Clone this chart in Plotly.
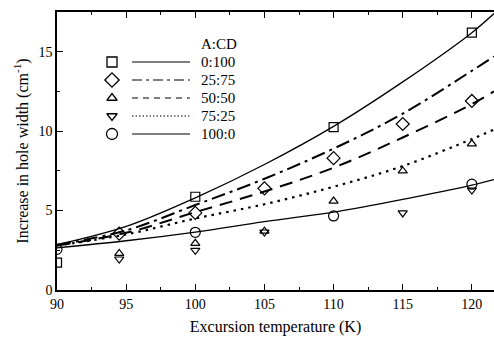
import plotly.graph_objects as go

# ---- data ----
fit_temps = [90, 95, 100, 105, 110, 115, 120, 121.6]
fit_0_100 = [2.85, 4.0, 5.8, 7.9, 10.3, 13.1, 16.2, 17.4]
fit_25_75 = [2.85, 3.75, 5.35, 7.0, 8.9, 11.1, 13.8, 14.7]
fit_50_50 = [2.8, 3.6, 4.9, 6.2, 7.7, 9.6, 11.7, 12.5]
fit_75_25 = [2.8, 3.5, 4.5, 5.4, 6.5, 7.8, 9.5, 10.1]
fit_100_0 = [2.65, 3.1, 3.65, 4.3, 4.9, 5.7, 6.6, 6.95]

sq_x = [90, 100, 110, 120]
sq_y = [1.72, 5.87, 10.25, 16.2]
di_x = [94.5, 100, 105, 110, 115, 120]
di_y = [3.55, 4.85, 6.4, 8.3, 10.45, 11.9]
tu_x = [94.5, 100, 105, 110, 115, 120]
tu_y = [2.3, 2.94, 3.7, 5.6, 7.5, 9.2]
td_x = [94.5, 100, 105, 115, 120]
td_y = [1.95, 2.5, 3.65, 4.85, 6.29]
ci_x = [90, 100, 110, 120]
ci_y = [2.56, 3.63, 4.66, 6.66]

legend_labels = ["0:100", "25:75", "50:50", "75:25", "100:0"]
legend_header = "A:CD"
x_ticks = [90, 95, 100, 105, 110, 115, 120]
y_ticks = [0, 5, 10, 15]

# ---- layout geometry ----
W, H = 494, 340
L, R, T, B = 57, 0, 12, 50
X_RANGE = [90, 121.6]
Y_RANGE = [0, 17.5]

def px2paper(px, py):
    return (px - L) / (W - L - R), (H - B - py) / (H - T - B)

FONT = "Liberation Serif"
black = "black"

fig = go.Figure()

line_styles = [
    dict(dash="solid", width=1.3),
    dict(dash="14px,5px,3px,5px", width=2.0),
    dict(dash="13px,8px", width=2.0),
    dict(dash="2.5px,5px", width=2.2),
    dict(dash="solid", width=1.3),
]
fits = [fit_0_100, fit_25_75, fit_50_50, fit_75_25, fit_100_0]
for ys, st in zip(fits, line_styles):
    fig.add_trace(go.Scatter(x=fit_temps, y=ys, mode="lines", line_shape="spline",
                             line=dict(color=black, **st), showlegend=False,
                             hoverinfo="skip"))

symbols = ["square-open", "diamond-open", "triangle-up-open", "triangle-down-open", "circle-open"]
sizes = [9, 10, 8, 8, 10]
series = [(sq_x, sq_y), (di_x, di_y), (tu_x, tu_y), (td_x, td_y), (ci_x, ci_y)]
for (xs, ys), sym, sz in zip(series, symbols, sizes):
    fig.add_trace(go.Scatter(x=xs, y=ys, mode="markers",
                             marker=dict(symbol=sym, size=sz, color=black,
                                         line=dict(color=black, width=1.2)),
                             showlegend=False))

# ---- hand-drawn legend ----
row_py = [62, 80, 98, 116, 134]
leg_dash = ["solid", "10px,4px,3px,4px", "6px,5px", "1.5px,2px", "solid"]
lx, ly = [], []
for i, py in enumerate(row_py):
    sx, sy = px2paper(112, py)
    lx.append(sx); ly.append(sy)
    x0, y0 = px2paper(132, py)
    x1, _ = px2paper(190, py)
    fig.add_shape(type="line", xref="paper", yref="paper", x0=x0, x1=x1, y0=y0, y1=y0,
                  line=dict(color=black, width=1.1, dash=leg_dash[i]))
    tx, ty = px2paper(199, py)
    fig.add_annotation(xref="paper", yref="paper", x=tx, y=ty, text=legend_labels[i],
                       showarrow=False, xanchor="left", yanchor="middle",
                       font=dict(family=FONT, size=15, color=black))
hx, hy = px2paper(199, 44)
fig.add_annotation(xref="paper", yref="paper", x=hx, y=hy, text=legend_header,
                   showarrow=False, xanchor="left", yanchor="middle",
                   font=dict(family=FONT, size=15, color=black))
for i, (sym, sz) in enumerate(zip(symbols, sizes)):
    fig.add_trace(go.Scatter(x=[lx[i]], y=[ly[i]], xaxis="x2", yaxis="y2", mode="markers",
                             marker=dict(symbol=sym, size=sz + 1, color=black,
                                         line=dict(color=black, width=1.3)),
                             showlegend=False, hoverinfo="skip"))

axis_common = dict(showline=True, linecolor=black, linewidth=1.6, ticks="inside",
                   tickcolor=black, ticklen=6, tickwidth=1.2, showgrid=False, zeroline=False,
                   tickfont=dict(family=FONT, size=14, color=black))

fig.update_layout(
    width=W, height=H, margin=dict(l=L, r=R, t=T, b=B),
    paper_bgcolor="white", plot_bgcolor="white",
    font=dict(family=FONT, color=black),
    xaxis=dict(range=X_RANGE, tickvals=x_ticks, mirror="ticks",
               minor=dict(dtick=2.5, tick0=90, ticks="inside", ticklen=3, tickcolor=black),
               title=dict(text="Excursion temperature (K)", standoff=10,
                          font=dict(family=FONT, size=16, color=black)),
               **axis_common),
    yaxis=dict(range=Y_RANGE, tickvals=y_ticks,
               minor=dict(dtick=2.5, tick0=0, ticks="inside", ticklen=3, tickcolor=black),
               title=dict(text="Increase in hole width (cm<sup>-1</sup>)", standoff=6,
                          font=dict(family=FONT, size=16, color=black)),
               **axis_common),
    xaxis2=dict(overlaying="x", range=[0, 1], visible=False),
    yaxis2=dict(overlaying="y", range=[0, 1], visible=False),
)

fig.write_html("out.html", config={"displayModeBar": False},
               post_script="document.body.style.margin='0';")
